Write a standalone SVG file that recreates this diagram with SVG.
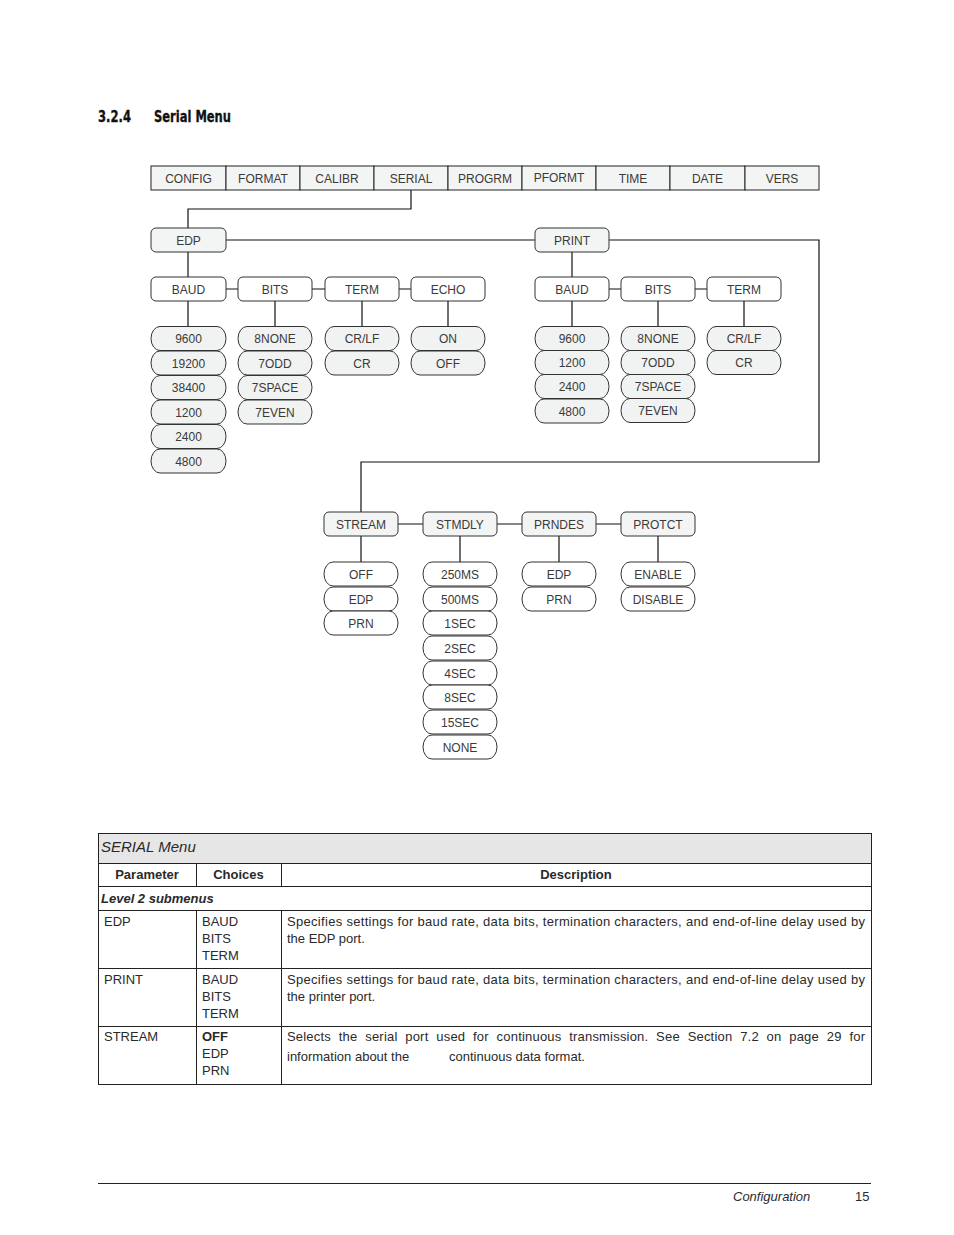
<svg xmlns="http://www.w3.org/2000/svg" width="954" height="1235" viewBox="0 0 954 1235">
<style>
text{font-family:"Liberation Sans",Arial,sans-serif;fill:#2a2a2a}
.n{font-size:12px;text-anchor:middle;fill:#3a3a3a}
.cell{fill:#f3f5f4;stroke:#222;stroke-width:1}
.b1{fill:#f3f5f4;stroke:#333;stroke-width:1}
.b2{fill:#fff;stroke:#333;stroke-width:1}
.pg{fill:#f1f3f2;stroke:#333;stroke-width:1}
.pw{fill:#fff;stroke:#333;stroke-width:1}
.c{fill:none;stroke:#111;stroke-width:1.2}
.t{font-size:13px}
.tl{fill:none;stroke:#222;stroke-width:1}
.h{font-family:"DejaVu Sans Condensed","Liberation Sans Narrow",sans-serif;font-weight:bold;font-size:15px;fill:#111;stroke:#111;stroke-width:0.3}
</style>
<rect width="954" height="1235" fill="#fff"/>
<text class="h" x="98" y="122" textLength="33" lengthAdjust="spacingAndGlyphs">3.2.4</text>
<text class="h" x="154" y="122" textLength="77" lengthAdjust="spacingAndGlyphs">Serial Menu</text>

<g id="connectors">
<path class="c" d="M411,190 V209 H188 V228"/>
<path class="c" d="M226,240 H535"/>
<path class="c" d="M609,240 H819 V462 H361 V512"/>
<path class="c" d="M188,252 V277"/>
<path class="c" d="M226,289 H238 M312,289 H325 M399,289 H411"/>
<path class="c" d="M188,301 V327 M275,301 V327 M362,301 V327 M448,301 V327"/>
<path class="c" d="M572,252 V277"/>
<path class="c" d="M609,289 H621 M695,289 H707"/>
<path class="c" d="M572,301 V327 M658,301 V327 M744,301 V327"/>
<path class="c" d="M398,524 H423 M497,524 H522 M596,524 H621"/>
<path class="c" d="M361,536 V562 M460,536 V562 M559,536 V562 M658,536 V562"/>
</g>

<g id="topbar">
<rect class="cell" x="151" y="166" width="75" height="24"/><text class="n" x="188.5" y="182.5">CONFIG</text>
<rect class="cell" x="226" y="166" width="74" height="24"/><text class="n" x="263" y="182.5">FORMAT</text>
<rect class="cell" x="300" y="166" width="74" height="24"/><text class="n" x="337" y="182.5">CALIBR</text>
<rect class="cell" x="374" y="166" width="74" height="24"/><text class="n" x="411" y="182.5">SERIAL</text>
<rect class="cell" x="448" y="166" width="74" height="24"/><text class="n" x="485" y="182.5">PROGRM</text>
<rect class="cell" x="522" y="166" width="74" height="24"/><text class="n" x="559" y="181.5">PFORMT</text>
<rect class="cell" x="596" y="166" width="74" height="24"/><text class="n" x="633" y="182.5">TIME</text>
<rect class="cell" x="670" y="166" width="75" height="24"/><text class="n" x="707.5" y="182.5">DATE</text>
<rect class="cell" x="745" y="166" width="74" height="24"/><text class="n" x="782" y="182.5">VERS</text>
</g>

<g id="edp"><rect class="b1" x="151" y="228" width="75" height="24" rx="5"/><text class="n" x="188.5" y="244.5">EDP</text></g>
<g id="print"><rect class="b1" x="535" y="228" width="74" height="24" rx="5"/><text class="n" x="572" y="244.5">PRINT</text></g>

<g id="edp-baud"><rect class="b2" x="151" y="277" width="75" height="24" rx="5"/><text class="n" x="188.5" y="293.5">BAUD</text></g>
<g id="edp-bits"><rect class="b2" x="238" y="277" width="74" height="24" rx="5"/><text class="n" x="275" y="293.5">BITS</text></g>
<g id="edp-term"><rect class="b2" x="325" y="277" width="74" height="24" rx="5"/><text class="n" x="362" y="293.5">TERM</text></g>
<g id="edp-echo"><rect class="b2" x="411" y="277" width="74" height="24" rx="5"/><text class="n" x="448" y="293.5">ECHO</text></g>

<g id="edp-baud-opts">
<rect class="pg" x="151" y="326.5" width="75" height="24" rx="9" ry="12"/><text class="n" x="188.5" y="343">9600</text>
<rect class="pg" x="151" y="351" width="75" height="24" rx="9" ry="12"/><text class="n" x="188.5" y="367.5">19200</text>
<rect class="pg" x="151" y="375.5" width="75" height="24" rx="9" ry="12"/><text class="n" x="188.5" y="392">38400</text>
<rect class="pg" x="151" y="400" width="75" height="24" rx="9" ry="12"/><text class="n" x="188.5" y="416.5">1200</text>
<rect class="pg" x="151" y="424.5" width="75" height="24" rx="9" ry="12"/><text class="n" x="188.5" y="441">2400</text>
<rect class="pg" x="151" y="449" width="75" height="24" rx="9" ry="12"/><text class="n" x="188.5" y="465.5">4800</text>
</g>
<g id="edp-bits-opts">
<rect class="pg" x="238" y="326.5" width="74" height="24" rx="9" ry="12"/><text class="n" x="275" y="343">8NONE</text>
<rect class="pg" x="238" y="351" width="74" height="24" rx="9" ry="12"/><text class="n" x="275" y="367.5">7ODD</text>
<rect class="pg" x="238" y="375.5" width="74" height="24" rx="9" ry="12"/><text class="n" x="275" y="392">7SPACE</text>
<rect class="pg" x="238" y="400" width="74" height="24" rx="9" ry="12"/><text class="n" x="275" y="416.5">7EVEN</text>
</g>
<g id="edp-term-opts">
<rect class="pg" x="325" y="326.5" width="74" height="24" rx="9" ry="12"/><text class="n" x="362" y="343">CR/LF</text>
<rect class="pg" x="325" y="351" width="74" height="24" rx="9" ry="12"/><text class="n" x="362" y="367.5">CR</text>
</g>
<g id="edp-echo-opts">
<rect class="pg" x="411" y="326.5" width="74" height="24" rx="9" ry="12"/><text class="n" x="448" y="343">ON</text>
<rect class="pg" x="411" y="351" width="74" height="24" rx="9" ry="12"/><text class="n" x="448" y="367.5">OFF</text>
</g>

<g id="prn-baud"><rect class="b2" x="535" y="277" width="74" height="24" rx="5"/><text class="n" x="572" y="293.5">BAUD</text></g>
<g id="prn-bits"><rect class="b2" x="621" y="277" width="74" height="24" rx="5"/><text class="n" x="658" y="293.5">BITS</text></g>
<g id="prn-term"><rect class="b2" x="707" y="277" width="74" height="24" rx="5"/><text class="n" x="744" y="293.5">TERM</text></g>

<g id="prn-baud-opts">
<rect class="pg" x="535" y="326.5" width="74" height="24" rx="9" ry="12"/><text class="n" x="572" y="343">9600</text>
<rect class="pg" x="535" y="350.5" width="74" height="24" rx="9" ry="12"/><text class="n" x="572" y="367">1200</text>
<rect class="pg" x="535" y="374.5" width="74" height="24" rx="9" ry="12"/><text class="n" x="572" y="391">2400</text>
<rect class="pg" x="535" y="399" width="74" height="24" rx="9" ry="12"/><text class="n" x="572" y="415.5">4800</text>
</g>
<g id="prn-bits-opts">
<rect class="pg" x="621" y="326.5" width="74" height="24" rx="9" ry="12"/><text class="n" x="658" y="343">8NONE</text>
<rect class="pg" x="621" y="350.5" width="74" height="24" rx="9" ry="12"/><text class="n" x="658" y="367">7ODD</text>
<rect class="pg" x="621" y="374.5" width="74" height="24" rx="9" ry="12"/><text class="n" x="658" y="391">7SPACE</text>
<rect class="pg" x="621" y="398.5" width="74" height="24" rx="9" ry="12"/><text class="n" x="658" y="415">7EVEN</text>
</g>
<g id="prn-term-opts">
<rect class="pg" x="707" y="326.5" width="74" height="24" rx="9" ry="12"/><text class="n" x="744" y="343">CR/LF</text>
<rect class="pg" x="707" y="350.5" width="74" height="24" rx="9" ry="12"/><text class="n" x="744" y="367">CR</text>
</g>

<g id="stream"><rect class="b1" x="324" y="512" width="74" height="24" rx="5"/><text class="n" x="361" y="528.5">STREAM</text></g>
<g id="stmdly"><rect class="b1" x="423" y="512" width="74" height="24" rx="5"/><text class="n" x="460" y="528.5">STMDLY</text></g>
<g id="prndes"><rect class="b1" x="522" y="512" width="74" height="24" rx="5"/><text class="n" x="559" y="528.5">PRNDES</text></g>
<g id="protct"><rect class="b1" x="621" y="512" width="74" height="24" rx="5"/><text class="n" x="658" y="528.5">PROTCT</text></g>

<g id="stream-opts">
<rect class="pw" x="324" y="562" width="74" height="24" rx="9" ry="12"/><text class="n" x="361" y="578.5">OFF</text>
<rect class="pw" x="324" y="587" width="74" height="24" rx="9" ry="12"/><text class="n" x="361" y="603.5">EDP</text>
<rect class="pw" x="324" y="611" width="74" height="24" rx="9" ry="12"/><text class="n" x="361" y="627.5">PRN</text>
</g>
<g id="stmdly-opts">
<rect class="pw" x="423" y="562" width="74" height="24" rx="9" ry="12"/><text class="n" x="460" y="578.5">250MS</text>
<rect class="pw" x="423" y="587" width="74" height="24" rx="9" ry="12"/><text class="n" x="460" y="603.5">500MS</text>
<rect class="pw" x="423" y="611" width="74" height="24" rx="9" ry="12"/><text class="n" x="460" y="627.5">1SEC</text>
<rect class="pw" x="423" y="636" width="74" height="24" rx="9" ry="12"/><text class="n" x="460" y="652.5">2SEC</text>
<rect class="pw" x="423" y="661" width="74" height="24" rx="9" ry="12"/><text class="n" x="460" y="677.5">4SEC</text>
<rect class="pw" x="423" y="685" width="74" height="24" rx="9" ry="12"/><text class="n" x="460" y="701.5">8SEC</text>
<rect class="pw" x="423" y="710" width="74" height="24" rx="9" ry="12"/><text class="n" x="460" y="726.5">15SEC</text>
<rect class="pw" x="423" y="735" width="74" height="24" rx="9" ry="12"/><text class="n" x="460" y="751.5">NONE</text>
</g>
<g id="prndes-opts">
<rect class="pw" x="522" y="562" width="74" height="24" rx="9" ry="12"/><text class="n" x="559" y="578.5">EDP</text>
<rect class="pw" x="522" y="587" width="74" height="24" rx="9" ry="12"/><text class="n" x="559" y="603.5">PRN</text>
</g>
<g id="protct-opts">
<rect class="pw" x="621" y="562" width="74" height="24" rx="9" ry="12"/><text class="n" x="658" y="578.5">ENABLE</text>
<rect class="pw" x="621" y="587" width="74" height="24" rx="9" ry="12"/><text class="n" x="658" y="603.5">DISABLE</text>
</g>

<g id="table">
<rect x="98.5" y="833.5" width="773" height="30" fill="#e6e6e6"/>
<rect class="tl" x="98.5" y="833.5" width="773" height="251"/>
<path class="tl" d="M98.5,863.5 H871.5 M98.5,886.5 H871.5 M98.5,910.5 H871.5 M98.5,968.5 H871.5 M98.5,1026.5 H871.5"/>
<path class="tl" d="M196.5,863.5 V886.5 M281.5,863.5 V886.5 M196.5,910.5 V1084.5 M281.5,910.5 V1084.5"/>
<text x="101" y="852" style="font-size:15px;font-style:italic">SERIAL Menu</text>
<text x="147" y="879" style="font-size:13px;font-weight:bold;text-anchor:middle">Parameter</text>
<text x="238.5" y="879" style="font-size:13px;font-weight:bold;text-anchor:middle">Choices</text>
<text x="576" y="879" style="font-size:13px;font-weight:bold;text-anchor:middle">Description</text>
<text x="101" y="903" style="font-size:13px;font-style:italic;font-weight:bold">Level 2 submenus</text>

<text class="t" x="104" y="926">EDP</text>
<text class="t" x="202" y="926">BAUD</text>
<text class="t" x="202" y="943">BITS</text>
<text class="t" x="202" y="960">TERM</text>
<text class="t" x="287" y="926" textLength="578" lengthAdjust="spacing">Specifies settings for baud rate, data bits, termination characters, and end-of-line delay used by</text>
<text class="t" x="287" y="943">the EDP port.</text>

<text class="t" x="104" y="984">PRINT</text>
<text class="t" x="202" y="984">BAUD</text>
<text class="t" x="202" y="1001">BITS</text>
<text class="t" x="202" y="1018">TERM</text>
<text class="t" x="287" y="984" textLength="578" lengthAdjust="spacing">Specifies settings for baud rate, data bits, termination characters, and end-of-line delay used by</text>
<text class="t" x="287" y="1001">the printer port.</text>

<text class="t" x="104" y="1041">STREAM</text>
<text class="t" x="202" y="1041" style="font-weight:bold">OFF</text>
<text class="t" x="202" y="1058">EDP</text>
<text class="t" x="202" y="1075">PRN</text>
<text class="t" x="287" y="1041" textLength="578" lengthAdjust="spacing" style="word-spacing:4px">Selects the serial port used for continuous transmission. See Section 7.2 on page 29 for</text>
<text class="t" x="287" y="1061">information about the</text>
<text class="t" x="449" y="1061">continuous data format.</text>
</g>

<g id="footer">
<path d="M98,1183.5 H871" stroke="#222" stroke-width="1"/>
<text x="733" y="1201" style="font-size:13px;font-style:italic">Configuration</text>
<text x="855" y="1201" style="font-size:13px">15</text>
</g>
</svg>
